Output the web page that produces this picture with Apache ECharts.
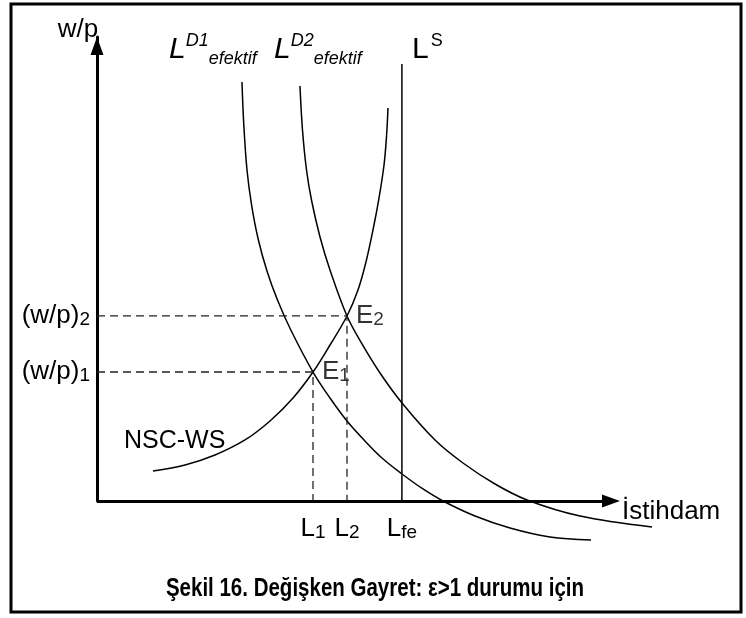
<!DOCTYPE html>
<html>
<head>
<meta charset="utf-8">
<script src="https://cdn.jsdelivr.net/npm/echarts@6/dist/echarts.min.js"></script>
<style>
  html, body { margin: 0; padding: 0; background: #fff; }
  #chart { width: 746px; height: 618px; }
</style>
</head>
<body>
<div id="chart"></div>
<script>
// istihdam (x) ve reel ücret (y), grafik birimi
var nscWs = [
    [10.71, 6.47], [16.83, 7.76], [22.56, 9.91], [28.30, 13.15], [33.08, 17.24],
    [37.48, 22.20], [41.30, 27.80], [44.55, 33.62], [47.80, 39.87], [49.90, 45.47],
    [51.43, 51.51], [52.77, 58.41], [53.92, 65.30], [54.88, 72.41], [55.35, 78.45],
    [55.64, 84.70]
];
var ldEfektif1 = [
    [27.72, 90.30], [28.07, 81.03], [28.68, 71.34], [29.56, 63.79], [30.86, 56.25],
    [32.56, 49.35], [34.51, 43.32], [37.06, 36.85], [41.30, 27.80], [44.55, 22.20],
    [47.80, 17.24], [51.24, 12.93], [54.49, 9.27], [58.32, 5.82], [62.33, 2.59],
    [66.16, 0], [72.28, -3.23], [78.97, -5.82], [86.62, -7.76], [94.46, -8.41]
];
var ldEfektif2 = [
    [38.81, 89.44], [39.29, 79.96], [40.06, 71.34], [41.01, 64.87], [42.64, 56.90],
    [44.55, 49.78], [47.80, 39.87], [50.67, 33.84], [54.11, 27.59], [58.32, 21.12],
    [64.63, 13.15], [69.98, 8.19], [76.10, 3.66], [82.22, 0.22], [92.35, -3.23],
    [106.12, -5.60]
];
var lsX = 58.3;
var lsTop = 94.2;

// denge noktaları E1, E2
var eqNames = ['E{s|1}', 'E{s|2}'];
var eqL = [41.3, 47.8];
var eqW = [27.8, 39.9];

var xTickValues = [41.3, 47.8, 58.3];
var xTickLabels = ['L{s|1}', 'L{s|2}', 'L{s|fe}'];
var yTickValues = [27.8, 39.9];
var yTickLabels = ['(w/p){s|1}', '(w/p){s|2}'];

var FONT = 'Liberation Sans, Arial, sans-serif';
var subRich = {
    s: { fontSize: 19, fontFamily: FONT, color: '#000', lineHeight: 12, verticalAlign: 'bottom' }
};
var italicRich = {
    L: { fontFamily: FONT, fontSize: 30, fontStyle: 'italic', lineHeight: 36 },
    sup: { fontFamily: FONT, fontSize: 18, fontStyle: 'italic', lineHeight: 12, verticalAlign: 'top' },
    sub: { fontFamily: FONT, fontSize: 18, fontStyle: 'italic', lineHeight: 21, verticalAlign: 'bottom' }
};

function guideSeries(i){
    return {
        type: 'line',
        data: [[0, eqW[i]], [eqL[i], eqW[i]], [eqL[i], 0]],
        showSymbol: false,
        silent: true,
        lineStyle: { color: '#222', width: 1.3, type: [8, 5] }
    };
}

function curveSeries(data){
    return {
        type: 'line',
        data: data,
        smooth: 0.35,
        showSymbol: false,
        clip: false,
        silent: true,
        lineStyle: { color: '#000', width: 1.5 }
    };
}

var myChart = echarts.init(document.getElementById('chart'));

var option = {
    animation: false,
    backgroundColor: '#fff',
    grid: { left: 97, top: 37, right: 73.7, bottom: 117, containLabel: false },
    xAxis: {
        type: 'value',
        min: 0,
        max: 110,
        axisLine: { show: false },
        axisTick: { show: false },
        splitLine: { show: false },
        axisLabel: {
            customValues: xTickValues,
            margin: 15,
            fontFamily: FONT,
            fontSize: 26,
            lineHeight: 26,
            color: '#000',
            formatter: function(v){
                return xTickLabels[xTickValues.indexOf(v)] || '';
            },
            rich: subRich
        }
    },
    yAxis: {
        type: 'value',
        min: 0,
        max: 100,
        name: 'w/p',
        nameLocation: 'end',
        nameGap: -6,
        nameTextStyle: { fontFamily: FONT, fontSize: 26, lineHeight: 26, color: '#000', align: 'center', padding: [0, 38, 0, 0] },
        axisLine: {
            lineStyle: { color: '#000', width: 3 },
            symbol: ['none', 'triangle'],
            symbolSize: [13, 18],
            symbolOffset: [0, -9]
        },
        axisTick: { show: false },
        splitLine: { show: false },
        axisLabel: {
            customValues: yTickValues,
            margin: 7,
            fontFamily: FONT,
            fontSize: 26,
            lineHeight: 26,
            color: '#000',
            formatter: function(v){
                return yTickLabels[yTickValues.indexOf(v)] || '';
            },
            rich: subRich
        }
    },
    graphic: [
        {
            type: 'rect',
            shape: { x: 11, y: 4, width: 730, height: 608 },
            style: { fill: 'none', stroke: '#000', lineWidth: 3 },
            silent: true
        },
        {
            type: 'text', left: 169, top: 32,
            style: { text: '{L|L}{sup|D1}{sub|efektif}', rich: italicRich }
        },
        {
            type: 'text', left: 274, top: 32,
            style: { text: '{L|L}{sup|D2}{sub|efektif}', rich: italicRich }
        },
        {
            type: 'text', left: 412, top: 32,
            style: {
                text: '{L|L}{sup|S}',
                rich: {
                    L: { fontFamily: FONT, fontSize: 30, lineHeight: 36 },
                    sup: { fontFamily: FONT, fontSize: 18, lineHeight: 12, verticalAlign: 'top', padding: [0, 0, 0, 2] }
                }
            }
        },
        {
            type: 'text', left: 124, top: 429,
            style: { text: 'NSC-WS', fontFamily: FONT, fontSize: 25, fill: '#000' }
        },
        // dar kalın başlık
        {
            type: 'text', x: 375, y: 589, scaleX: 0.82,
            style: {
                text: 'Şekil 16. Değişken Gayret: ε>1 durumu için',
                fontFamily: FONT, fontSize: 25, fontWeight: 'bold', fill: '#000',
                align: 'center', verticalAlign: 'middle'
            }
        }
    ],
    series: [
        // yatay eksen: ok ucu 620px'te biter
        {
            type: 'line',
            data: [],
            silent: true,
            markLine: {
                silent: true,
                symbol: ['none', 'triangle'],
                symbolSize: [13, 18],
                lineStyle: { color: '#000', width: 3, type: 'solid' },
                label: {
                    show: true,
                    position: 'end',
                    distance: 11,
                    formatter: '{a|İstihdam}',
                    rich: {
                        a: { fontFamily: FONT, fontSize: 26, color: '#000', padding: [22, 0, 0, 0] }
                    }
                },
                data: [[{ coord: [0, 0] }, { coord: [98.28, 0] }]]
            }
        },
        curveSeries(nscWs),
        curveSeries(ldEfektif1),
        curveSeries(ldEfektif2),
        {
            type: 'line',
            data: [[lsX, 0], [lsX, lsTop]],
            showSymbol: false,
            silent: true,
            lineStyle: { color: '#000', width: 1.5 }
        },
        guideSeries(0),
        guideSeries(1),
        {
            type: 'scatter',
            symbolSize: 0,
            silent: true,
            data: eqL.map(function(l, i){
                return { name: eqNames[i], value: [l, eqW[i]] };
            }),
            label: {
                show: true,
                position: 'right',
                distance: 9,
                formatter: '{b}',
                fontFamily: FONT,
                fontSize: 26,
                lineHeight: 26,
                color: '#000',
                rich: subRich
            }
        }
    ]
};

myChart.setOption(option);
</script>
</body>
</html>
